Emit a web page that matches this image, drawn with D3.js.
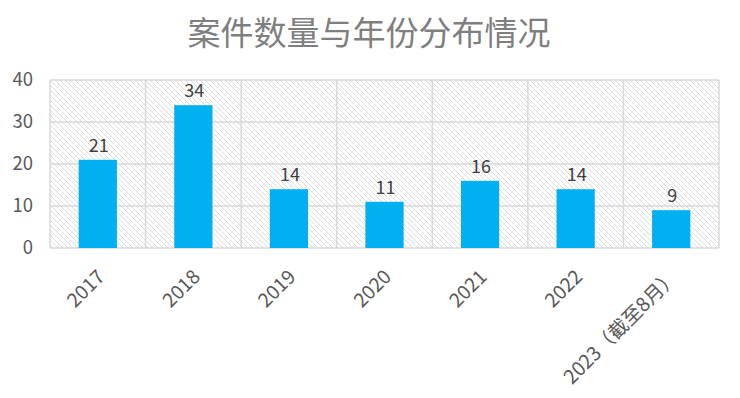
<!DOCTYPE html>
<html><head><meta charset="utf-8">
<script src="https://cdn.jsdelivr.net/npm/d3@7"></script>
<style>html,body{margin:0;padding:0;background:#fff;}svg{display:block;}</style>
</head><body>
<svg id="c" width="740" height="398"></svg>
<script>
const title = "案件数量与年份分布情况";
const categories = ["2017","2018","2019","2020","2021","2022","2023（截至8月）"];
const values = [21,34,14,11,16,14,9];
const yTicks = [0,10,20,30,40];

const W = 740, H = 398;
const m = {left:50, right:21, top:80, bottom:150};
const svg = d3.select("#c");
const font = "'Noto Sans CJK SC','Microsoft YaHei',sans-serif";

const defs = svg.append("defs");
const pat = defs.append("pattern").attr("id","hatch").attr("patternUnits","userSpaceOnUse")
  .attr("width",5).attr("height",5);
pat.append("rect").attr("width",5).attr("height",5).attr("fill","#ffffff");
pat.append("path").attr("d","M0,0L5,5M-1,4L1,6M4,-1L6,1")
  .attr("stroke","#d8d8d8").attr("stroke-width",0.9);

const x = d3.scaleBand().domain(categories).range([m.left, W-m.right]).paddingInner(0).paddingOuter(0);
const y = d3.scaleLinear().domain([0,40]).range([H-m.bottom, m.top]);

svg.append("rect").attr("x",m.left).attr("y",m.top)
  .attr("width",W-m.left-m.right).attr("height",H-m.top-m.bottom).attr("fill","url(#hatch)");

svg.append("g").selectAll("line").data(yTicks).join("line")
  .attr("x1",m.left).attr("x2",W-m.right)
  .attr("y1",d=>y(d)).attr("y2",d=>y(d))
  .attr("stroke","#d9d9d9").attr("stroke-width",1.5);
const bounds = categories.map(c=>x(c)).concat([W-m.right]);
svg.append("g").selectAll("line").data(bounds).join("line")
  .attr("x1",d=>d).attr("x2",d=>d)
  .attr("y1",m.top).attr("y2",H-m.bottom)
  .attr("stroke","#d9d9d9").attr("stroke-width",1.5);

const bw = x.bandwidth()*0.4;
svg.append("g").selectAll("rect").data(values).join("rect")
  .attr("x",(d,i)=>x(categories[i])+x.bandwidth()/2-bw/2)
  .attr("width",bw)
  .attr("y",d=>y(d)).attr("height",d=>y(0)-y(d))
  .attr("fill","#00B0F0");

svg.append("g").selectAll("text").data(values).join("text")
  .attr("x",(d,i)=>x(categories[i])+x.bandwidth()/2+1)
  .attr("y",d=>y(d)-8)
  .attr("text-anchor","middle")
  .attr("font-family",font).attr("font-size",18).attr("fill","#404040")
  .text(d=>d);

const yAxis = d3.axisLeft(y).tickValues(yTicks).tickSize(0).tickPadding(17);
const gy = svg.append("g").attr("transform",`translate(${m.left},0)`).call(yAxis);
gy.select(".domain").remove();
gy.selectAll("text").attr("font-family",font).attr("font-size",18.5).attr("fill","#595959");

const xAxis = d3.axisBottom(x).tickSize(0).tickPadding(0);
const gx = svg.append("g").attr("transform",`translate(0,${H-m.bottom})`).call(xAxis);
gx.select(".domain").remove();
gx.selectAll("text")
  .attr("font-family",font).attr("font-size",19.5).attr("fill","#595959")
  .attr("text-anchor","end").attr("dy",null).attr("y",0)
  .attr("transform","translate(8,30) rotate(-45)");

svg.append("text").attr("x",369).attr("y",45).attr("text-anchor","middle")
  .attr("font-family",font).attr("font-size",33).attr("fill","#7f7f7f").text(title);
</script>
</body></html>
